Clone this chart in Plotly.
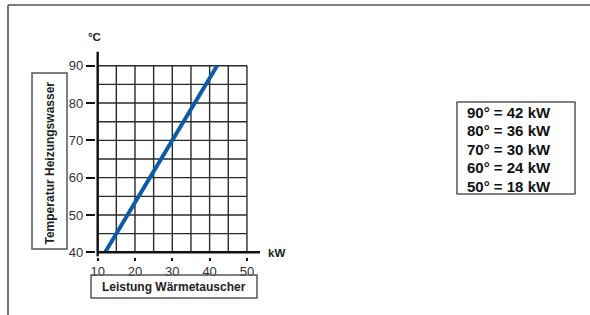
import plotly.graph_objects as go

# ---- data ----
temperature_c = [40, 50, 60, 70, 80, 90]
power_kw = [12, 18, 24, 30, 36, 42]
x_ticks = [10, 20, 30, 40, 50]
y_ticks = [40, 50, 60, 70, 80, 90]
x_grid = [10, 15, 20, 25, 30, 35, 40, 45, 50]
y_grid = [40, 45, 50, 55, 60, 65, 70, 75, 80, 85, 90]
legend_lines = ["90° = 42 kW", "80° = 36 kW", "70° = 30 kW", "60° = 24 kW", "50° = 18 kW"]

W, H = 590, 315
FONT = "Liberation Sans, Arial, Helvetica, sans-serif"
DARK = "#222222"

def px(x):
    return x / W

def py(y):
    return 1 - y / H

fig = go.Figure()
fig.add_trace(go.Scatter(x=power_kw, y=temperature_c, mode="lines",
                         line=dict(color="#0b5ca6", width=4), hoverinfo="skip",
                         showlegend=False, cliponaxis=False))

shapes = []
# grid
for gx in x_grid:
    shapes.append(dict(type="line", xref="x", yref="y", x0=gx, x1=gx, y0=40, y1=90,
                       line=dict(color="#2a2a2a", width=1.4), layer="below"))
for gy in y_grid:
    shapes.append(dict(type="line", xref="x", yref="y", x0=10, x1=50, y0=gy, y1=gy,
                       line=dict(color="#2a2a2a", width=1.4), layer="below"))
# axes lines (extended)
shapes.append(dict(type="line", xref="x", yref="y", x0=10, x1=10, y0=38.9, y1=93.8,
                   line=dict(color="#111", width=2.4)))
shapes.append(dict(type="line", xref="x", yref="y", x0=10, x1=53.5, y0=40, y1=40,
                   line=dict(color="#111", width=2.4)))

# outer frame
shapes.append(dict(type="line", xref="paper", yref="paper", x0=px(8), x1=px(590), y0=py(5), y1=py(5),
                   line=dict(color="#555", width=1.6)))
shapes.append(dict(type="line", xref="paper", yref="paper", x0=px(8), x1=px(8), y0=py(5), y1=py(315),
                   line=dict(color="#555", width=1.6)))

# label boxes
def box(x0, y0, x1, y1):
    return dict(type="rect", xref="paper", yref="paper", x0=px(x0), x1=px(x1), y0=py(y1), y1=py(y0),
                line=dict(color="#555", width=1.5), fillcolor="rgba(0,0,0,0)")

shapes.append(box(32, 73, 67, 249))
shapes.append(box(91, 275, 257, 298))
shapes.append(box(457, 102, 575, 194))

def ann(text, x, y, size=11, angle=0, xanchor="center", color=DARK, align="center"):
    return dict(text=text, x=px(x), y=py(y), xref="paper", yref="paper", showarrow=False,
                xanchor=xanchor, yanchor="middle", textangle=angle, align=align,
                font=dict(family=FONT, size=size, color=color))

annotations = [
    ann("<b>°C</b>", 95, 37, size=11.5),
    ann("<b>kW</b>", 276, 253, size=11.5),
    ann("<b>Temperatur Heizungswasser</b>", 49.5, 163, size=12, angle=-90),
    ann("<b>Leistung Wärmetauscher</b>", 174, 286.5, size=12),
]
for i, t in enumerate(legend_lines):
    annotations.append(ann(f"<b>{t}</b>", 465, 112.5 + 18.4 * i, size=15,
                           xanchor="left", color="#111", align="left"))

fig.update_layout(
    width=W, height=H, margin=dict(l=0, r=0, t=0, b=0, pad=0, autoexpand=False),
    paper_bgcolor="white", plot_bgcolor="rgba(0,0,0,0)",
    shapes=shapes, annotations=annotations,
    xaxis=dict(range=[9.5, 53.5], domain=[95.8 / W, 260 / W], showgrid=False, zeroline=False,
               automargin=False, showline=False, tickvals=x_ticks, ticks="outside", ticklen=3,
               tickwidth=2, tickcolor="#111", tickfont=dict(family=FONT, size=13, color="#333")),
    yaxis=dict(range=[38.8, 93.8], domain=[1 - 256.8 / H, 1 - 51.5 / H], showgrid=False,
               automargin=False, zeroline=False, showline=False, tickvals=y_ticks, ticks="outside",
               ticklen=9, tickwidth=2, tickcolor="#111",
               tickfont=dict(family=FONT, size=13, color="#333")),
)

fig.write_html("out.html", config={"displayModeBar": False},
               post_script="document.body.style.margin='0';document.body.style.overflow='hidden';")
